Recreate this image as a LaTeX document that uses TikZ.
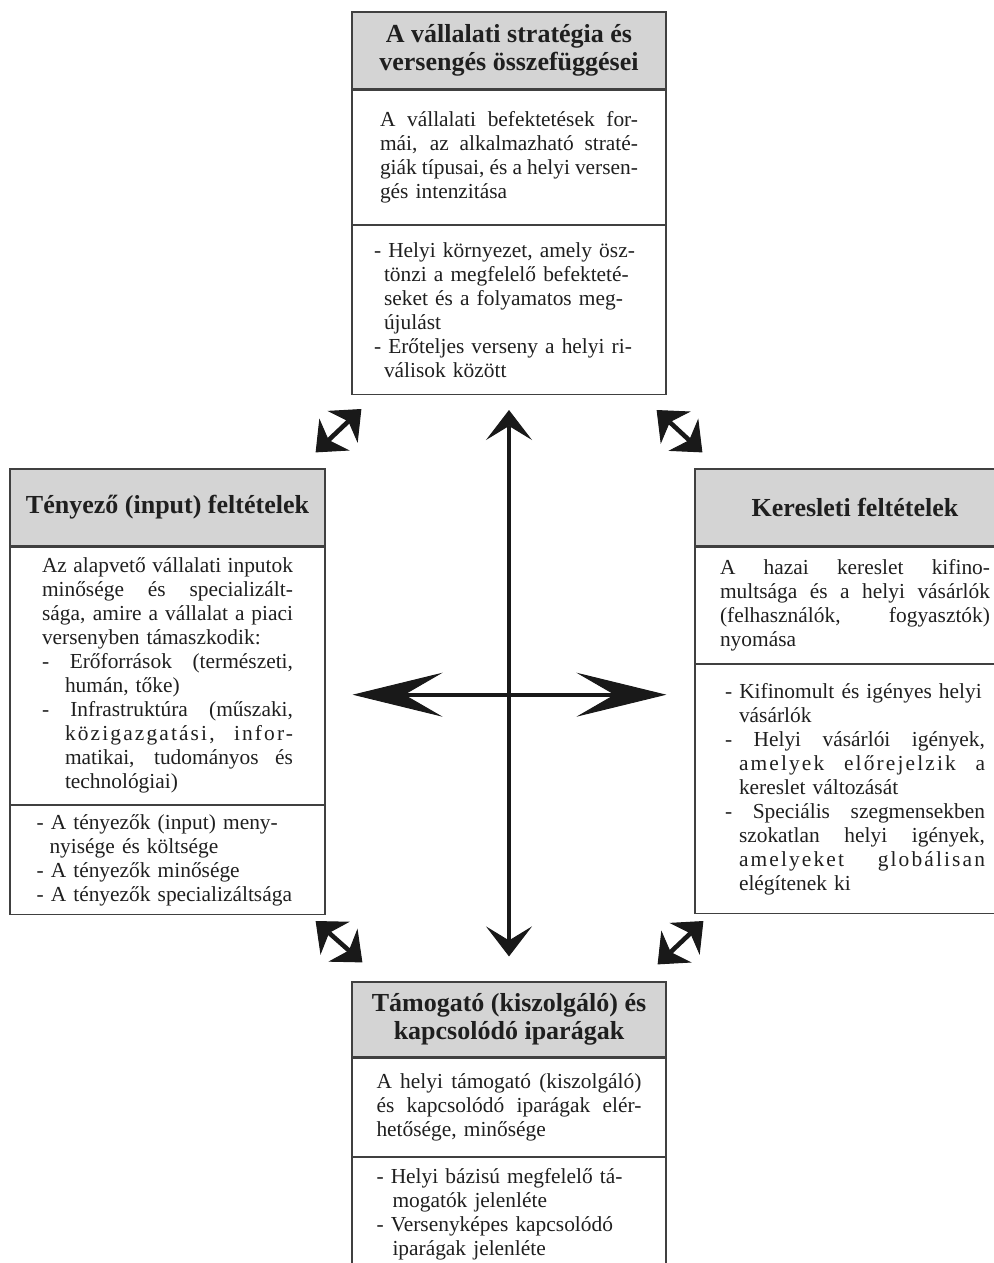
\documentclass[tikz,border=0pt]{standalone}
\usepackage{fontspec}
\setmainfont{Liberation Serif}
\usepackage{tikz}
\usetikzlibrary{arrows.meta,calc,positioning}

% body font, justified line, indented justified line, letter-spaced words
\newcommand{\bodyfont}{\fontsize{10.7}{12}\selectfont\spaceskip=0.21em plus 0.1em minus 0.05em\relax}
\newcommand{\jl}[1]{\makebox[\hsize][s]{\spaceskip=0.2em plus 1fil\relax #1}}
\newcommand{\jli}[2]{\hspace*{#1}\makebox[\dimexpr\hsize-#1\relax][s]{\spaceskip=0.2em plus 1fil\relax #2}}
\newcommand{\spaced}[1]{{\addfontfeature{LetterSpace=10}#1}}

\begin{document}
\begin{tikzpicture}[x=0.5pt, y=-0.5pt,
  every node/.style={text=black!88},
  part/.style={draw=black!75, line width=0.6pt, inner sep=0pt, align=left, font=\bodyfont},
  head/.style={part, fill=black!17, align=center,
    font=\fontsize{13}{14.2}\selectfont\bfseries},
  crossarrow/.style={line width=2pt, draw=black!90,
    {Stealth[length=15pt,width=23pt,inset=7pt,line width=0.5pt]}-{Stealth[length=15pt,width=23pt,inset=7pt,line width=0.5pt]}},
  sidearrow/.style={line width=2pt, draw=black!90,
    {Stealth[length=45pt,width=22pt,inset=19pt,line width=0.5pt]}-{Stealth[length=45pt,width=22pt,inset=19pt,line width=0.5pt]}},
  diagarrow/.style={line width=2.3pt, draw=black!90,
    {Stealth[length=13pt,width=22pt,inset=4pt,line width=0.5pt]}-{Stealth[length=13pt,width=22pt,inset=4pt,line width=0.5pt]}}]
  \path[use as bounding box] (0,0) rectangle (994,1263);
  \clip (0,0) rectangle (994,1263);

  % top box
  \node[head, minimum width=157pt, minimum height=38.5pt] (strat) at (509,50.5)
    {A vállalati stratégia és\\versengés összefüggései};
  \node[part, minimum width=157pt, minimum height=67pt, text width=129pt, below=0pt of strat] (strat-a)
    {\jl{A vállalati befektetések for-}\\
     \jl{mái, az alkalmazható straté-}\\
     \jl{giák típusai, és a helyi versen-}\\
     gés intenzitása};
  \node[part, minimum width=157pt, minimum height=84.5pt, text width=135pt, below=0pt of strat-a] (strat-b)
    {- Helyi környezet, amely ösz-\\
     \hspace*{5pt}tönzi a megfelelő befekteté-\\
     \hspace*{5pt}seket és a folyamatos meg-\\
     \hspace*{5pt}újulást\\
     - Erőteljes verseny a helyi ri-\\
     \hspace*{5pt}válisok között};

  % left box
  \node[head, minimum width=157.5pt, minimum height=38.5pt] (factor) at (167.5,507.5)
    {Tényező (input) feltételek};
  \node[part, minimum width=157.5pt, minimum height=128.5pt, text width=125.5pt, below=0pt of factor] (factor-a)
    {\jl{Az alapvető vállalati inputok}\\
     \jl{minősége és specializált-}\\
     \jl{sága, amire a vállalat a piaci}\\
     versenyben támaszkodik:\\
     \jl{- Erőforrások (természeti,}\\
     \hspace*{11.5pt}humán, tőke)\\
     \jl{- Infrastruktúra (műszaki,}\\
     \jli{11.5pt}{\spaced{közigazgatási, infor-}}\\
     \jli{11.5pt}{matikai, tudományos és}\\
     \hspace*{11.5pt}technológiai)};
  \node[part, minimum width=157.5pt, minimum height=54.5pt, text width=131pt, below=0pt of factor-a] (factor-b)
    {- A tényezők (input) meny-\\
     \hspace*{6.5pt}nyisége és költsége\\
     - A tényezők minősége\\
     - A tényezők specializáltsága};

  % right box
  \node[head, minimum width=160pt, minimum height=38.5pt] (demand) at (855,507.5)
    {Keresleti feltételek};
  \node[part, minimum width=160pt, minimum height=58pt, text width=135pt, below=0pt of demand] (demand-a)
    {\jl{A hazai kereslet kifino-}\\
     \jl{multsága és a helyi vásárlók}\\
     \jl{(felhasználók, fogyasztók)}\\
     nyomása};
  \node[part, minimum width=160pt, minimum height=124.5pt, text width=130pt, below=0pt of demand-a] (demand-b)
    {- Kifinomult és igényes helyi\\
     \hspace*{7pt}vásárlók\\
     \jl{- Helyi vásárlói igények,}\\
     \jli{7pt}{\spaced{amelyek előrejelzik a}}\\
     \hspace*{7pt}kereslet változását\\
     \jl{- Speciális szegmensekben}\\
     \jli{7pt}{szokatlan helyi igények,}\\
     \jli{7pt}{\spaced{amelyeket globálisan}}\\
     \hspace*{7pt}elégítenek ki};

  % bottom box
  \node[head, minimum width=157pt, minimum height=37.5pt] (support) at (509,1019.5)
    {Támogató (kiszolgáló) és\\kapcsolódó iparágak};
  \node[part, minimum width=157pt, minimum height=49pt, text width=132.5pt, below=0pt of support] (support-a)
    {\jl{A helyi támogató (kiszolgáló)}\\
     \jl{és kapcsolódó iparágak elér-}\\
     hetősége, minősége};
  \node[part, minimum width=157pt, minimum height=56.5pt, text width=132.5pt, below=0pt of support-a] (support-b)
    {- Helyi bázisú megfelelő tá-\\
     \hspace*{8pt}mogatók jelenléte\\
     - Versenyképes kapcsolódó\\
     \hspace*{8pt}iparágak jelenléte};

  % the cross in the middle
  \coordinate (hub) at ($(factor.north)!0.5!(factor-b.south)+(0,3)$);
  \draw[crossarrow, shorten <=7.5pt, shorten >=12.5pt] (strat-b.south) -- (support.north);
  \draw[sidearrow, shorten <=13.5pt, shorten >=14pt] (factor-a.east |- hub) -- (demand-b.west |- hub);

  % corner arrows
  \coordinate (tl-a) at ($(factor.north east)+(-10,-16)$);
  \coordinate (tl-b) at ($(strat-b.south west)+(10,14)$);
  \coordinate (tr-a) at ($(strat-b.south east)+(-10,15)$);
  \coordinate (tr-b) at ($(demand.north west)+(8,-16)$);
  \coordinate (bl-a) at ($(factor-b.south east)+(-10,6)$);
  \coordinate (bl-b) at ($(support.north west)+(11,-19)$);
  \coordinate (br-a) at ($(demand-b.south west)+(9,7)$);
  \coordinate (br-b) at ($(support.north east)+(-9,-17)$);
  \draw[diagarrow] (tl-a) -- (tl-b);
  \draw[diagarrow] (tr-a) -- (tr-b);
  \draw[diagarrow] (bl-a) -- (bl-b);
  \draw[diagarrow] (br-a) -- (br-b);
\end{tikzpicture}
\end{document}
